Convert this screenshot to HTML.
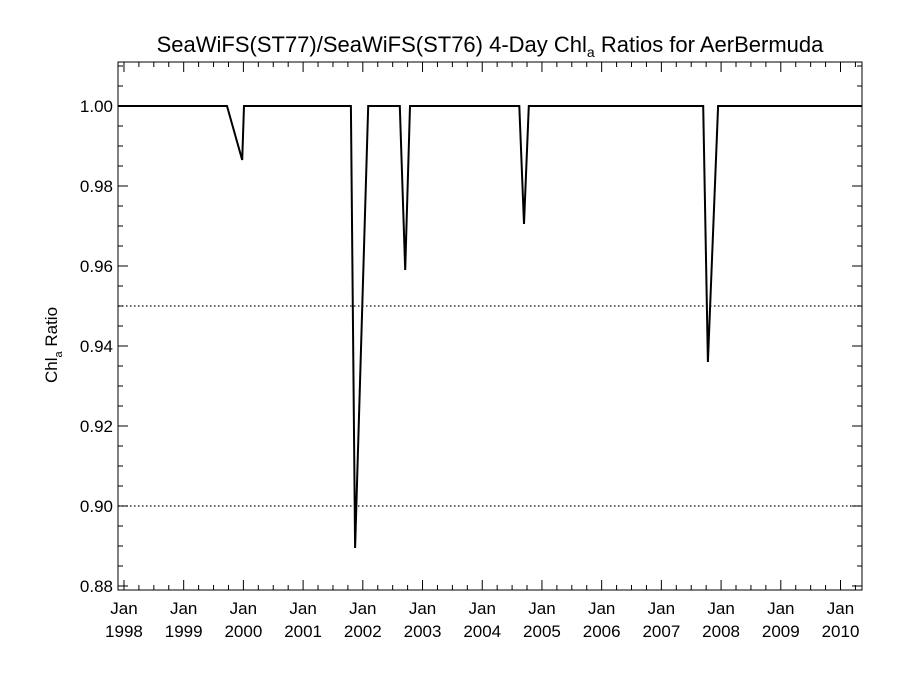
<!DOCTYPE html>
<html><head><meta charset="utf-8"><style>
body{margin:0;background:#fff;}
svg text{font-family:"Liberation Sans",Arial,sans-serif;fill:#000;}
</style></head><body>
<svg id="chart" width="900" height="675" xmlns="http://www.w3.org/2000/svg">
<text x="490" y="52" font-size="22" text-anchor="middle">SeaWiFS(ST77)/SeaWiFS(ST76) 4-Day Chl<tspan font-size="14" dy="5">a</tspan><tspan dy="-5"> Ratios for AerBermuda</tspan></text>
<text transform="translate(57,345) rotate(-90)" font-size="17" text-anchor="middle">Chl<tspan font-size="11" dy="5">a</tspan><tspan dy="-5"> Ratio</tspan></text>
<g id="axes"></g>
<g id="series"></g>
</svg>
<script>
const xDates = [1997.9, 1999.725, 1999.98, 2000.01, 2001.80, 2001.87, 2002.09, 2002.62, 2002.71, 2002.79, 2004.62, 2004.70, 2004.78, 2007.70, 2007.78, 2007.95, 2010.36];
const ratios = [1.0, 1.0, 0.9865, 1.0, 1.0, 0.8895, 1.0, 1.0, 0.959, 1.0, 1.0, 0.9705, 1.0, 1.0, 0.936, 1.0, 1.0];
const yTicks = [0.88, 0.90, 0.92, 0.94, 0.96, 0.98, 1.00];
const xYears = [1998, 1999, 2000, 2001, 2002, 2003, 2004, 2005, 2006, 2007, 2008, 2009, 2010];
const refLines = [0.95, 0.90];

const L=118,R=862,T=62,B=590;
const x0=1997.9,x1=2010.36,y0=0.879,y1=1.011;
const sx=v=>L+(v-x0)/(x1-x0)*(R-L);
const sy=v=>B-(v-y0)/(y1-y0)*(B-T);
const NS="http://www.w3.org/2000/svg";
const axes=document.getElementById('axes'), ser=document.getElementById('series');
function mk(tag,attrs,parent){const e=document.createElementNS(NS,tag);for(const k in attrs)e.setAttribute(k,attrs[k]);parent.appendChild(e);return e;}

const frame=mk('rect',{x:L,y:T,width:R-L,height:B-T,fill:'none',stroke:'#000','stroke-width':1},axes);



refLines.forEach(v=>{
  const l=mk('line',{x1:L,x2:R,y1:sy(v),y2:sy(v),stroke:'#000','stroke-width':1.2,'stroke-dasharray':'1.5,2.5'},axes);
  
  
});

for(let v=0.88;v<=1.0101;v+=0.005){
  const major=Math.abs(Math.round(v*50)-v*50)<1e-6;
  const len=major?10:5;
  mk('line',{x1:L,x2:L+len,y1:sy(v),y2:sy(v),stroke:'#000'},axes);
  mk('line',{x1:R,x2:R-len,y1:sy(v),y2:sy(v),stroke:'#000'},axes);
}
yTicks.forEach(v=>{
  const t=mk('text',{x:L-5,y:sy(v)+6,'font-size':17,'text-anchor':'end'},axes);
  t.textContent=v.toFixed(2);
  
  
});
for(let q=Math.ceil(x0*4);q<=x1*4;q++){
  const v=q/4, major=q%4===0, len=major?10:5;
  mk('line',{x1:sx(v),x2:sx(v),y1:B,y2:B-len,stroke:'#000'},axes);
  mk('line',{x1:sx(v),x2:sx(v),y1:T,y2:T+len,stroke:'#000'},axes);
}
xYears.forEach(yr=>{
  const t=mk('text',{x:sx(yr),y:614,'font-size':17,'text-anchor':'middle'},axes);
  t.textContent='Jan';
  
  
  const t2=mk('text',{x:sx(yr),y:637,'font-size':17,'text-anchor':'middle'},axes);
  t2.textContent=String(yr);
  
  
});

const pts=xDates.map((d,i)=>sx(d).toFixed(1)+','+sy(ratios[i]).toFixed(1)).join(' ');
const line=mk('polyline',{points:pts,fill:'none',stroke:'#000','stroke-width':2,'stroke-linejoin':'miter'},ser);


</script>
</body></html>
